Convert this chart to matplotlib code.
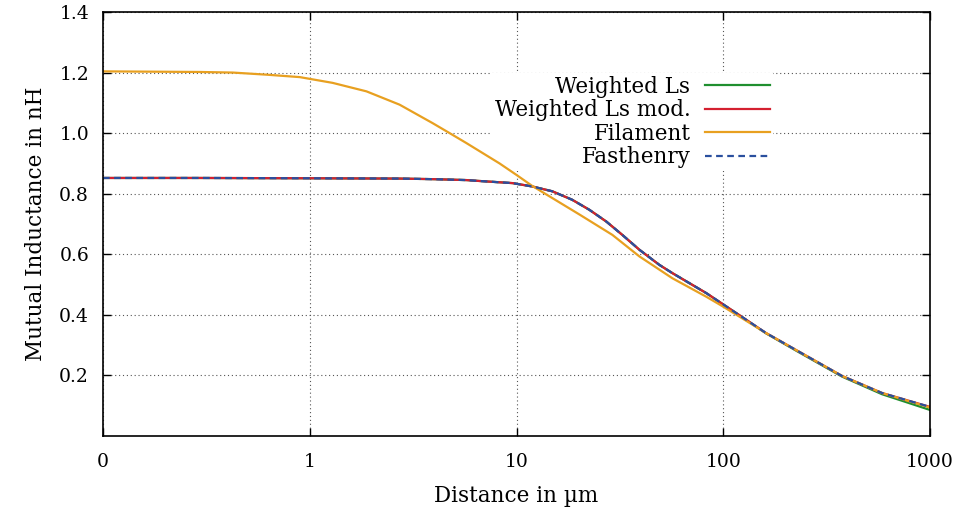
import matplotlib

matplotlib.use("Agg")
import matplotlib.pyplot as plt
from matplotlib.ticker import FixedLocator, FixedFormatter, NullLocator

plt.rcParams["font.family"] = ["DejaVu Serif"]
plt.rcParams["font.size"] = 13.5
TEXT_SIZE = 15.5

# Werte
dist_filament = [0.1, 0.294, 0.425, 0.62, 0.895, 1.29, 1.88, 2.72, 3.93, 4.75,
                 5.73, 8.28, 10, 11.9, 20.2, 29.1, 39.3, 56.7, 82.7, 100, 161,
                 233, 376, 586, 1000]
l_filament = [1.204, 1.202, 1.200, 1.193, 1.185, 1.166, 1.138, 1.094, 1.033,
              1.000, 0.967, 0.900, 0.862, 0.826, 0.731, 0.664, 0.593, 0.521,
              0.460, 0.427, 0.340, 0.278, 0.198, 0.142, 0.094]

dist_ls = [0.1, 0.294, 1, 2.72, 4, 5.73, 6.63, 9.57, 11.9, 14.9, 18.6, 22.5,
           27.2, 32.5, 39.3, 49.1, 56.7, 82.7, 119, 161, 233, 376, 586, 1000]
l_weighted = [0.852, 0.852, 0.851, 0.850, 0.848, 0.845, 0.842, 0.835, 0.824,
              0.808, 0.780, 0.747, 0.708, 0.664, 0.615, 0.565, 0.538, 0.472,
              0.400, 0.339, 0.276, 0.196, 0.138, 0.086]
l_weighted_mod = [0.852, 0.852, 0.851, 0.850, 0.848, 0.845, 0.842, 0.835, 0.824,
                  0.808, 0.780, 0.747, 0.708, 0.664, 0.615, 0.565, 0.538, 0.472,
                  0.400, 0.340, 0.278, 0.198, 0.142, 0.096]
l_fasthenry = [0.852, 0.852, 0.851, 0.850, 0.848, 0.845, 0.842, 0.835, 0.824,
               0.808, 0.780, 0.747, 0.708, 0.664, 0.615, 0.565, 0.538, 0.472,
               0.400, 0.340, 0.278, 0.198, 0.142, 0.096]

x_ticks = [0.1, 1, 10, 100, 1000]
x_tick_labels = ["0", "1", "10", "100", "1000"]
y_ticks = [0.2, 0.4, 0.6, 0.8, 1.0, 1.2, 1.4]

fig = plt.figure(figsize=(9.58, 5.13), dpi=100)
ax = fig.add_axes([103 / 958, 1 - 436 / 513, 827 / 958, 424 / 513])

ax.plot(dist_ls, l_weighted, color="#1f8f2f", lw=1.6, label="Weighted Ls")
ax.plot(dist_ls, l_weighted_mod, color="#d42030", lw=1.6, label="Weighted Ls mod.")
ax.plot(dist_filament, l_filament, color="#e8a020", lw=1.6, label="Filament")
ax.plot(dist_ls, l_fasthenry, color="#2a4f9e", lw=1.6, ls=(0, (3, 2)),
        label="Fasthenry")

ax.set_xscale("log")
ax.set_xlim(0.1, 1000)
ax.set_ylim(0, 1.4)
ax.xaxis.set_major_locator(FixedLocator(x_ticks))
ax.xaxis.set_major_formatter(FixedFormatter(x_tick_labels))
ax.xaxis.set_minor_locator(NullLocator())
ax.set_yticks(y_ticks)
ax.set_yticklabels([f"{v:.1f}" for v in y_ticks])

ax.tick_params(direction="in", length=6, width=1, top=True, right=True)
ax.tick_params(axis="x", pad=12)
ax.tick_params(axis="y", pad=10)
ax.grid(True, color="#555555", ls=(0, (1, 2.5)), lw=0.8)
for s in ax.spines.values():
    s.set_linewidth(1.2)

ax.set_xlabel("Distance in µm", fontsize=TEXT_SIZE, labelpad=10)
ax.set_ylabel("Mutual Inductance in nH", fontsize=TEXT_SIZE, labelpad=9)

leg = ax.legend(loc="upper right", bbox_to_anchor=(0.8097, 0.856),
                borderaxespad=0, markerfirst=False, frameon=True,
                fancybox=False, framealpha=1, edgecolor="none",
                fontsize=TEXT_SIZE, handlelength=3.0, handletextpad=0.7,
                labelspacing=0.07, borderpad=0.12)
# Legende zwischen Gitter und Kurven
leg.set_zorder(1.8)

fig.savefig("out.png", dpi=100)
